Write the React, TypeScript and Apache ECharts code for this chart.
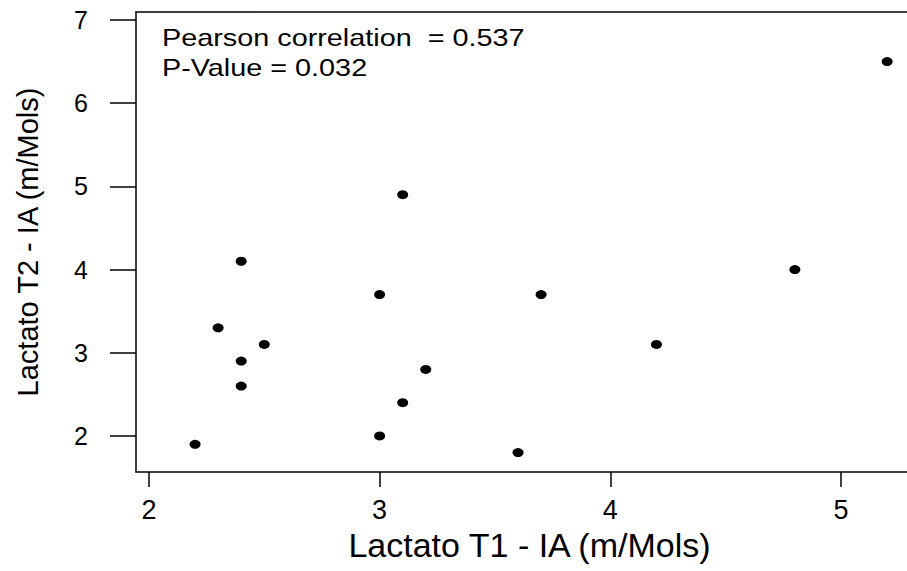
import React, { useEffect, useRef } from "react";
import * as echarts from "echarts";

const lactatoT1: number[] = [2.2, 2.3, 2.4, 2.4, 2.4, 2.5, 3.0, 3.0, 3.1, 3.1, 3.2, 3.6, 3.7, 4.2, 4.8, 5.2];
const lactatoT2: number[] = [1.9, 3.3, 4.1, 2.9, 2.6, 3.1, 3.7, 2.0, 4.9, 2.4, 2.8, 1.8, 3.7, 3.1, 4.0, 6.5];
const xTicks: number[] = [2, 3, 4, 5];
const yTicks: number[] = [2, 3, 4, 5, 6, 7];
const xTitle = "Lactato T1 - IA (m/Mols)";
const yTitle = "Lactato T2 - IA (m/Mols)";
const annotationLines: string[] = ["Pearson correlation  = 0.537", "P-Value = 0.032"];

const FONT = '"Liberation Sans", Arial, Helvetica, sans-serif';

export default function App() {
  const ref = useRef<HTMLDivElement>(null);
  useEffect(() => {
    if (!ref.current) return;
    const chart = echarts.init(ref.current, undefined, { renderer: "svg" });
    const points = lactatoT1.map((x, i) => [x, lactatoT2[i]]);
    const lineStyle = { color: "#000", width: 1.5 };
    chart.setOption({
      animation: false,
      backgroundColor: "#ffffff",
      textStyle: { fontFamily: FONT },
      grid: {
        left: 136,
        top: 12,
        right: 0,
        height: 460,
        show: false,
      },
      xAxis: [
        {
          type: "value",
          position: "bottom",
          min: 1.944,
          max: 5.286,
          name: xTitle,
          nameLocation: "middle",
          nameGap: 54,
          nameTextStyle: { fontSize: 34, color: "#000", fontFamily: FONT, padding: [0, 0, 0, 16] },
          axisLine: { show: true, onZero: false, lineStyle },
          axisTick: { show: true, inside: false, length: 15, customValues: xTicks, lineStyle },
          axisLabel: {
            customValues: xTicks,
            color: "#000",
            margin: 24,
            fontSize: 27,
            fontFamily: FONT,
          },
          splitLine: { show: false },
        },
        {
          type: "value",
          position: "top",
          min: 1.944,
          max: 5.286,
          axisLine: { show: true, onZero: false, lineStyle },
          axisTick: { show: false },
          axisLabel: { show: false },
          splitLine: { show: false },
        },
      ],
      yAxis: {
        type: "value",
        min: 1.567,
        max: 7.096,
        name: yTitle,
        nameLocation: "middle",
        nameGap: 94,
        nameTextStyle: { fontSize: 29, color: "#000", fontFamily: FONT },
        axisLine: { show: true, onZero: false, lineStyle },
        axisTick: { show: true, inside: false, length: 26, customValues: yTicks, lineStyle },
        axisLabel: {
          customValues: yTicks,
          color: "#000",
          margin: 48,
          fontSize: 25,
          fontFamily: FONT,
        },
        splitLine: { show: false },
      },
      graphic: annotationLines.map((t, i) => ({
        type: "text",
        x: 162,
        y: 26 + i * 30,
        scaleX: 1.2,
        style: { text: t, fontSize: 24, fill: "#000", fontFamily: FONT },
      })),
      series: [
        {
          type: "scatter",
          xAxisIndex: 0,
          data: points,
          symbol: "circle",
          symbolSize: [11, 9],
          itemStyle: { color: "#000", opacity: 1 },
        },
      ],
    });
    return () => chart.dispose();
  }, []);
  return (
    <div
      ref={ref}
      style={{ position: "fixed", left: 0, top: 0, width: 907, height: 571, background: "#fff" }}
    />
  );
}
